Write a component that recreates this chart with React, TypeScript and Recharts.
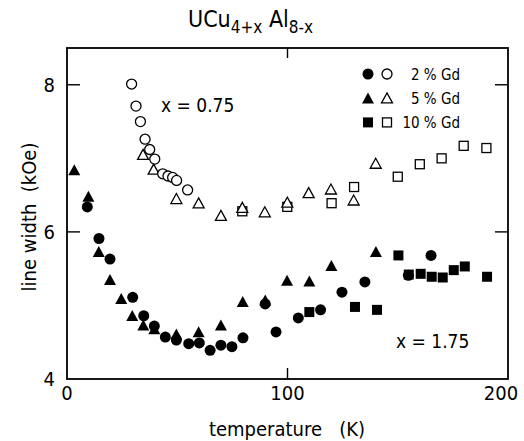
import React from 'react';
import { ScatterChart, Scatter, XAxis, YAxis } from 'recharts';

const FONT = "'DejaVu Sans Condensed', 'DejaVu Sans', sans-serif";

// x = 0.75 (open symbols)
const tOpen2 = [29.3, 31.3, 33.3, 35.4, 37.5, 39.8, 43.4, 45.8, 47.9, 49.7, 54.7];
const wOpen2 = [8.01, 7.71, 7.5, 7.26, 7.12, 6.99, 6.79, 6.76, 6.74, 6.7, 6.57];

const tOpen5 = [34.5, 39.3, 49.6, 59.7, 69.8, 79.5, 89.7, 99.9, 109.6, 119.7, 130, 140];
const wOpen5 = [7.05, 6.85, 6.45, 6.39, 6.22, 6.33, 6.27, 6.4, 6.53, 6.58, 6.43, 6.93];

const tOpen10 = [79.5, 99.9, 120, 130.2, 150, 160, 169.9, 179.9, 190.2];
const wOpen10 = [6.28, 6.34, 6.39, 6.61, 6.75, 6.92, 7.0, 7.17, 7.14];

// x = 1.75 (filled symbols)
const tFill2 = [9.2, 14.5, 19.5, 29.8, 34.8, 39.6, 44.6, 49.6, 55.2, 60, 64.9, 69.8, 74.8, 79.8, 89.9, 94.8, 104.9, 115, 124.7, 135.1, 154.8, 165.1];
const wFill2 = [6.34, 5.91, 5.63, 5.11, 4.86, 4.72, 4.57, 4.53, 4.48, 4.49, 4.39, 4.46, 4.44, 4.56, 5.02, 4.64, 4.83, 4.94, 5.18, 5.32, 5.41, 5.68];

const tFill5 = [3.3, 9.7, 14.4, 19.5, 24.6, 29.6, 34.6, 39.6, 49.6, 59.7, 69.8, 79.7, 89.9, 99.8, 109.9, 119.9, 140.1];
const wFill5 = [6.84, 6.48, 5.73, 5.35, 5.09, 4.86, 4.73, 4.68, 4.61, 4.64, 4.73, 5.05, 5.07, 5.34, 5.33, 5.54, 5.73];

const tFill10 = [109.9, 130.6, 140.6, 150.3, 155, 160.4, 165.4, 170.4, 175.4, 180.4, 190.5];
const wFill10 = [4.91, 4.98, 4.94, 5.68, 5.42, 5.43, 5.39, 5.38, 5.48, 5.53, 5.39];

const xTicks = [0, 100, 200];
const yTicks = [4, 6, 8];
const xInnerTicks = [100];
const yInnerTicks = [6, 8];
const X_DOMAIN = [0, 200];
const Y_DOMAIN = [4, 8.5];

const legendRows = [
  { label: '2 % Gd', kind: 'circle' },
  { label: '5 % Gd', kind: 'triangle' },
  { label: '10 % Gd', kind: 'square' },
];

// plot box (chart drawn at page origin)
const W = 524;
const H = 441;
const PLOT = { left: 67, top: 48, right: 508, bottom: 379 };
const Y_AXIS_W = 30;
const X_AXIS_H = 30;

const zip = (t: number[], w: number[]) => t.map((temp, i) => ({ temp, width: w[i] }));

const px = (v: number) => PLOT.left + ((v - X_DOMAIN[0]) / (X_DOMAIN[1] - X_DOMAIN[0])) * (PLOT.right - PLOT.left);
const py = (v: number) => PLOT.bottom - ((v - Y_DOMAIN[0]) / (Y_DOMAIN[1] - Y_DOMAIN[0])) * (PLOT.bottom - PLOT.top);

const Mark = ({ cx, cy, kind, filled }: any) => {
  const fill = filled ? '#000' : '#fff';
  const sw = filled ? 0 : 1.3;
  if (kind === 'circle') {
    return <circle cx={cx} cy={cy} r={filled ? 5.5 : 5} fill={fill} stroke="#000" strokeWidth={sw} />;
  }
  if (kind === 'triangle') {
    const h = filled ? 10.5 : 9.5;
    const hw = filled ? 6 : 5.5;
    return (
      <polygon
        points={`${cx},${cy - h / 2 - 0.5} ${cx - hw},${cy + h / 2} ${cx + hw},${cy + h / 2}`}
        fill={fill}
        stroke="#000"
        strokeWidth={sw}
      />
    );
  }
  const s = filled ? 10 : 9;
  return <rect x={cx - s / 2} y={cy - s / 2} width={s} height={s} fill={fill} stroke="#000" strokeWidth={sw} />;
};

const shapeOf = (kind: string, filled: boolean) => (props: any) => <Mark {...props} kind={kind} filled={filled} />;

const XTick = ({ x, y, payload }: any) => (
  <text x={payload.value === 200 ? x - 7 : x} y={y} dy="0.75em" textAnchor="middle" fontSize={20} fontFamily={FONT} fill="#000">
    {payload.value}
  </text>
);

export default function App() {
  const series = [
    { d: zip(tFill2, wFill2), kind: 'circle', filled: true },
    { d: zip(tFill5, wFill5), kind: 'triangle', filled: true },
    { d: zip(tFill10, wFill10), kind: 'square', filled: true },
    { d: zip(tOpen10, wOpen10), kind: 'square', filled: false },
    { d: zip(tOpen5, wOpen5), kind: 'triangle', filled: false },
    { d: zip(tOpen2, wOpen2), kind: 'circle', filled: false },
  ];

  return (
    <div style={{ position: 'absolute', left: 0, top: 0, width: W, height: H, background: '#fff' }}>
      {/* frame, inner ticks and annotations, under the chart */}
      <svg width={W} height={H} style={{ position: 'absolute', left: 0, top: 0 }} fontFamily={FONT}>
        <rect
          x={PLOT.left}
          y={PLOT.top}
          width={PLOT.right - PLOT.left}
          height={PLOT.bottom - PLOT.top}
          fill="none"
          stroke="#000"
          strokeWidth={1.8}
        />
        {yInnerTicks.map((v) => (
          <g key={v} stroke="#000" strokeWidth={1.4}>
            <line x1={PLOT.left} x2={PLOT.left + 13} y1={py(v)} y2={py(v)} />
            <line x1={PLOT.right - 13} x2={PLOT.right} y1={py(v)} y2={py(v)} />
          </g>
        ))}
        {xInnerTicks.map((v) => (
          <g key={v} stroke="#000" strokeWidth={1.4}>
            <line x1={px(v)} x2={px(v)} y1={PLOT.bottom} y2={PLOT.bottom - 11} />
            <line x1={px(v)} x2={px(v)} y1={PLOT.top} y2={PLOT.top + 10} />
          </g>
        ))}
        <text x={188} y={27} fontSize={23} fill="#000">
          UCu
          <tspan fontSize={17} dy={6}>4+x</tspan>
          <tspan fontSize={23} dy={-6}> Al</tspan>
          <tspan fontSize={17} dy={6}>8-x</tspan>
        </text>
        <text x={287} y={436} fontSize={20} textAnchor="middle" fill="#000" style={{ whiteSpace: 'pre' }}>
          {'temperature   (K)'}
        </text>
        <text transform="translate(36,217) rotate(-90)" fontSize={20} textAnchor="middle" fill="#000" style={{ whiteSpace: 'pre' }}>
          {'line width  (kOe)'}
        </text>
        <text x={161} y={112} fontSize={19} fill="#000">x = 0.75</text>
        <text x={396} y={348} fontSize={19} fill="#000">x = 1.75</text>
        {legendRows.map((r, i) => {
          const y = 74 + i * 24.2;
          return (
            <g key={r.label}>
              <Mark cx={368} cy={y} kind={r.kind} filled />
              <Mark cx={387} cy={y} kind={r.kind} filled={false} />
              <text x={460} y={y + 5.5} fontSize={15} textAnchor="end" fill="#000" style={{ whiteSpace: 'pre' }}>
                {r.label}
              </text>
            </g>
          );
        })}
      </svg>
      <div style={{ position: 'absolute', left: 0, top: 0 }}>
        <ScatterChart
          width={W}
          height={H}
          margin={{
            top: PLOT.top,
            right: W - PLOT.right,
            bottom: H - PLOT.bottom - X_AXIS_H,
            left: PLOT.left - Y_AXIS_W,
          }}
        >
          <XAxis
            xAxisId="x"
            dataKey="temp"
            type="number"
            domain={X_DOMAIN}
            ticks={xTicks}
            height={X_AXIS_H}
            tickMargin={0}
            tickLine={false}
            axisLine={false}
            tick={<XTick />}
          />
          <YAxis
            yAxisId="y"
            dataKey="width"
            type="number"
            domain={Y_DOMAIN}
            ticks={yTicks}
            width={Y_AXIS_W}
            tickMargin={6}
            tickLine={false}
            axisLine={false}
            tick={{ fill: '#000', fontSize: 20, fontFamily: FONT }}
          />
          {series.map((s, i) => (
            <Scatter
              key={i}
              xAxisId="x"
              yAxisId="y"
              data={s.d}
              shape={shapeOf(s.kind, s.filled)}
              isAnimationActive={false}
            />
          ))}
        </ScatterChart>
      </div>
    </div>
  );
}
